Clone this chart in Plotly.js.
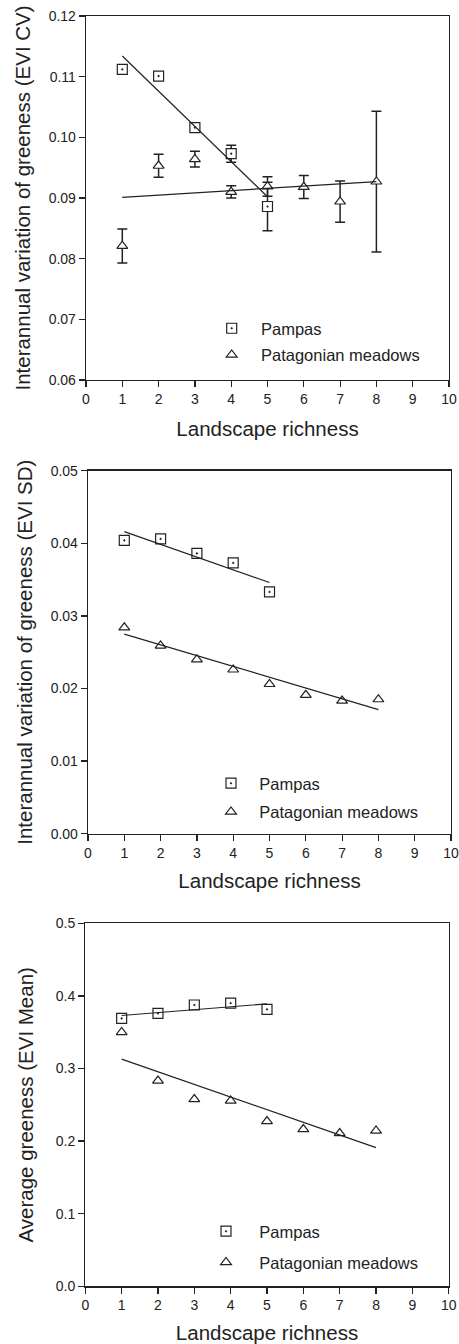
<!DOCTYPE html>
<html>
<head>
<meta charset="utf-8">
<script src="https://cdn.plot.ly/plotly-3.0.1.min.js"></script>
<style>html,body{margin:0;padding:0;background:#fff;}#chart{width:459px;height:1344px;}</style>
</head>
<body>
<div id="chart"></div>
<script>
// ---- data ----
const xPampas = [1, 2, 3, 4, 5];
const xPatag = [1, 2, 3, 4, 5, 6, 7, 8];
const xPampasFit = [1, 5];
const xPatagFit = [1, 8];
const xTicks = [0, 1, 2, 3, 4, 5, 6, 7, 8, 9, 10];

// Panel 1: EVI CV
const pampasCV = [0.1112, 0.1101, 0.1016, 0.0973, 0.0886];
const pampasCVErr = [0.0005, 0.0005, 0.0005, 0.0014, 0.0040];
const patagCV = [0.0821, 0.0953, 0.0964, 0.0910, 0.0919, 0.0918, 0.0894, 0.0927];
const patagCVErr = [0.0028, 0.0019, 0.0013, 0.0010, 0.0016, 0.0019, 0.0034, 0.0116];
const pampasCVFit = [0.1134, 0.0902];
const patagCVFit = [0.0901, 0.0927];

// Panel 2: EVI SD
const pampasSD = [0.0404, 0.0406, 0.0386, 0.0373, 0.0333];
const patagSD = [0.0284, 0.0259, 0.0240, 0.0226, 0.0206, 0.0191, 0.0183, 0.0185];
const pampasSDFit = [0.0416, 0.0346];
const patagSDFit = [0.0275, 0.0171];

// Panel 3: EVI Mean
const pampasMean = [0.369, 0.376, 0.3875, 0.390, 0.3815];
const patagMean = [0.350, 0.283, 0.2576, 0.2557, 0.2273, 0.2163, 0.2107, 0.2143];
const pampasMeanFit = [0.373, 0.389];
const patagMeanFit = [0.313, 0.191];

const seriesNames = ['Pampas', 'Patagonian meadows'];
const xTitle = 'Landscape richness';
const yTitles = ['Interannual variation of greeness (EVI CV)', 'Interannual variation of greeness (EVI SD)', 'Average greeness (EVI Mean)'];

// ---- styling ----
const INK = '#222';
const FONT = 'Liberation Sans, Arial, Helvetica, sans-serif';
const W = 459, H = 1344;

function sq(xs, ys, xa, ya, leg, err) {
  const t = {x: xs, y: ys, xaxis: xa, yaxis: ya, type: 'scatter', mode: 'markers', name: seriesNames[0],
    legend: leg, legendgroup: leg + 'a',
    marker: {symbol: 'square-dot', size: 10, color: '#fff', line: {color: INK, width: 1.2}}};
  if (err) t.error_y = {type: 'data', array: err, visible: true, color: INK, thickness: 1.5, width: 5};
  return t;
}
function tri(xs, ys, xa, ya, leg, err) {
  const t = {x: xs, y: ys, xaxis: xa, yaxis: ya, type: 'scatter', mode: 'markers', name: seriesNames[1],
    legend: leg, legendgroup: leg + 'b',
    marker: {symbol: 'triangle-up', size: 9.5, color: '#fff', line: {color: INK, width: 1.2}}};
  if (err) t.error_y = {type: 'data', array: err, visible: true, color: INK, thickness: 1.5, width: 5};
  return t;
}
function fit(xs, ys, xa, ya) {
  return {x: xs, y: ys, xaxis: xa, yaxis: ya, type: 'scatter', mode: 'lines', showlegend: false,
    line: {color: INK, width: 1.2}, hoverinfo: 'skip'};
}

const data = [
  sq(xPampas, pampasCV, 'x', 'y', 'legend', pampasCVErr),
  tri(xPatag, patagCV, 'x', 'y', 'legend', patagCVErr),
  fit(xPampasFit, pampasCVFit, 'x', 'y'),
  fit(xPatagFit, patagCVFit, 'x', 'y'),
  sq(xPampas, pampasSD, 'x2', 'y2', 'legend2'),
  tri(xPatag, patagSD, 'x2', 'y2', 'legend2'),
  fit(xPampasFit, pampasSDFit, 'x2', 'y2'),
  fit(xPatagFit, patagSDFit, 'x2', 'y2'),
  sq(xPampas, pampasMean, 'x3', 'y3', 'legend3'),
  tri(xPatag, patagMean, 'x3', 'y3', 'legend3'),
  fit(xPampasFit, pampasMeanFit, 'x3', 'y3'),
  fit(xPatagFit, patagMeanFit, 'x3', 'y3')
];

function xAxis(left, right, anchor, standoff) {
  return {domain: [left / W, right / W], anchor: anchor, range: [0, 10], tickvals: xTicks,
    ticks: 'outside', ticklen: 6, tickwidth: 1.2, tickcolor: INK,
    showline: true, mirror: true, linecolor: INK, linewidth: 1.3,
    showgrid: false, zeroline: false, fixedrange: true,
    tickfont: {size: 14, color: INK, family: FONT},
    title: {text: xTitle, font: {size: 20.5, color: INK, family: FONT}, standoff: standoff}};
}
function yAxis(top, bottom, anchor, range, dtick, fmt, title, standoff) {
  return {domain: [1 - bottom / H, 1 - top / H], anchor: anchor, range: range, dtick: dtick, tick0: 0,
    tickformat: fmt, ticks: 'outside', ticklen: 6, tickwidth: 1.2, tickcolor: INK,
    showline: true, mirror: true, linecolor: INK, linewidth: 1.3,
    showgrid: false, zeroline: false, fixedrange: true,
    tickfont: {size: 14, color: INK, family: FONT},
    title: {text: title, font: {size: 20.5, color: INK, family: FONT}, standoff: standoff}};
}
function legendAt(left, top, gap, iw) {
  return {x: left / W, y: 1 - top / H, xanchor: 'left', yanchor: 'top', bgcolor: 'rgba(0,0,0,0)',
    borderwidth: 0, tracegroupgap: gap, font: {size: 16.5, color: INK, family: FONT}, itemwidth: iw};
}

const layout = {
  width: W, height: H, margin: {l: 0, r: 0, t: 0, b: 0},
  paper_bgcolor: '#fff', plot_bgcolor: '#fff',
  font: {family: FONT, color: INK},
  showlegend: true,
  xaxis: xAxis(86, 449, 'y', 15),
  yaxis: yAxis(16, 380, 'x', [0.06, 0.12], 0.01, '.2f', yTitles[0], 12),
  xaxis2: xAxis(88, 451, 'y2', 14),
  yaxis2: yAxis(470.7, 833.7, 'x2', [0, 0.05], 0.01, '.2f', yTitles[1], 12),
  xaxis3: xAxis(85.3, 448.7, 'y3', 14),
  yaxis3: yAxis(923.3, 1286.3, 'x3', [0, 0.5], 0.1, '.1f', yTitles[2], 16),
  legend: legendAt(202.4, 311, 2, 48.6),
  legend2: legendAt(202.7, 766, 4, 46.6),
  legend3: legendAt(192.7, 1214, 6.5, 56.6)
};

Plotly.newPlot('chart', data, layout, {displayModeBar: false, staticPlot: true});
</script>
</body>
</html>
